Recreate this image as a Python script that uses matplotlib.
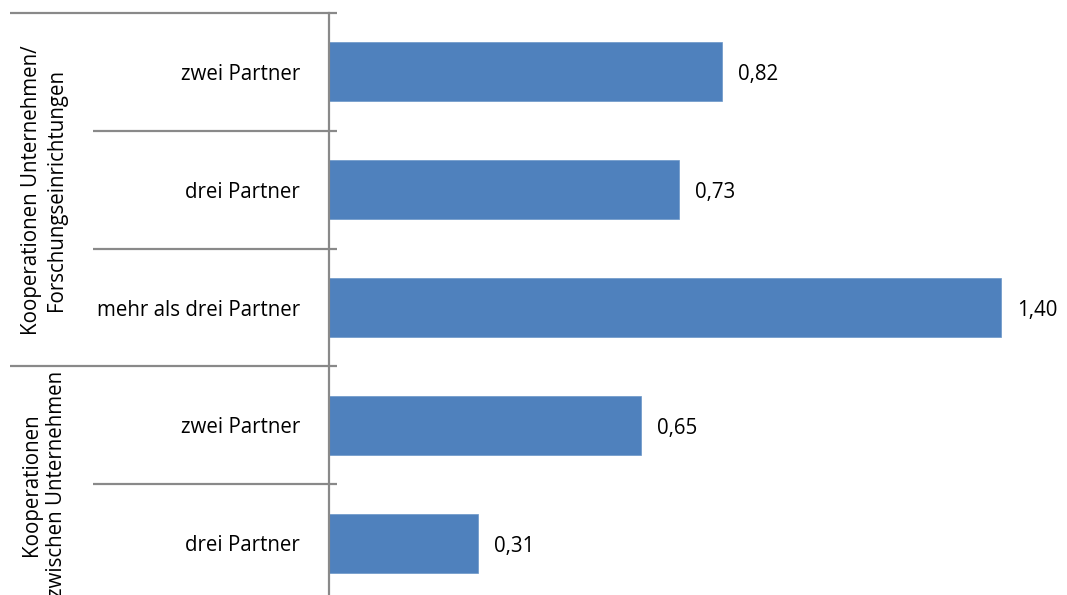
import matplotlib
matplotlib.use("Agg")
import matplotlib.pyplot as plt
import matplotlib.transforms as mtransforms

categories = ["zwei Partner", "drei Partner", "mehr als drei Partner", "zwei Partner", "drei Partner"]
values = [0.82, 0.73, 1.40, 0.65, 0.31]
value_labels = ["0,82", "0,73", "1,40", "0,65", "0,31"]
groups = ["Kooperationen Unternehmen/\nForschungseinrichtungen", "Kooperationen\nzwischen Unternehmen"]
group_sizes = [3, 2]

W, H = 1067, 595
fig = plt.figure(figsize=(W / 100, H / 100), dpi=100)
plt.rcParams['font.family'] = ['Open Sans', 'DejaVu Sans']
FS = 14.8

left_px, top_px, bottom_px = 329, 13, 602
ax = fig.add_axes([left_px / W, 1 - bottom_px / H, 1 - left_px / W, (bottom_px - top_px) / H])

bar_color = "#4F81BD"
line_color = "#898989"
ypos = list(range(len(values)))
ax.barh(ypos, values, height=0.5, color=bar_color, edgecolor="#6A96C8", linewidth=0.5, zorder=2)
ax.set_ylim(len(values) - 0.5, -0.5)
ax.set_xlim(0, (W - left_px) / 479.8)

for y, v, lab in zip(ypos, values, value_labels):
    ax.annotate(lab, xy=(v, y), xytext=(16, -3), textcoords="offset pixels",
                ha="left", va="center", fontsize=FS, color="#000000")

ax.set_yticks(ypos)
ax.set_yticklabels(categories, fontsize=FS)
ax.tick_params(axis="y", direction="in", length=5, width=1.2, color=line_color, pad=21)
ax.set_xticks([])
for s in ["top", "right", "bottom"]:
    ax.spines[s].set_visible(False)
ax.spines["left"].set_color(line_color)
ax.spines["left"].set_linewidth(1.6)

# separator lines (x in figure pixels, y in data)
trans = mtransforms.blended_transform_factory(
    mtransforms.Affine2D().scale(1.0 / W, 1.0) + fig.transFigure, ax.transData)

bounds_outer = [-0.5]
acc = -0.5
for g in group_sizes:
    acc += g
    bounds_outer.append(acc)
all_bounds = [i - 0.5 for i in range(len(values) + 1)]
for b in all_bounds:
    x0 = 10 if b in bounds_outer else 93
    ax.plot([x0, 337], [b, b], transform=trans, color=line_color, lw=1.6,
            clip_on=False, solid_capstyle="butt")

# group labels
start = -0.5
for name, g in zip(groups, group_sizes):
    center = start + g / 2
    ax.text(44, center, name, transform=trans, rotation=90, ha="center", va="center",
            multialignment="center", fontsize=FS, linespacing=1.2)
    start += g

fig.savefig("out.png", dpi=100)
